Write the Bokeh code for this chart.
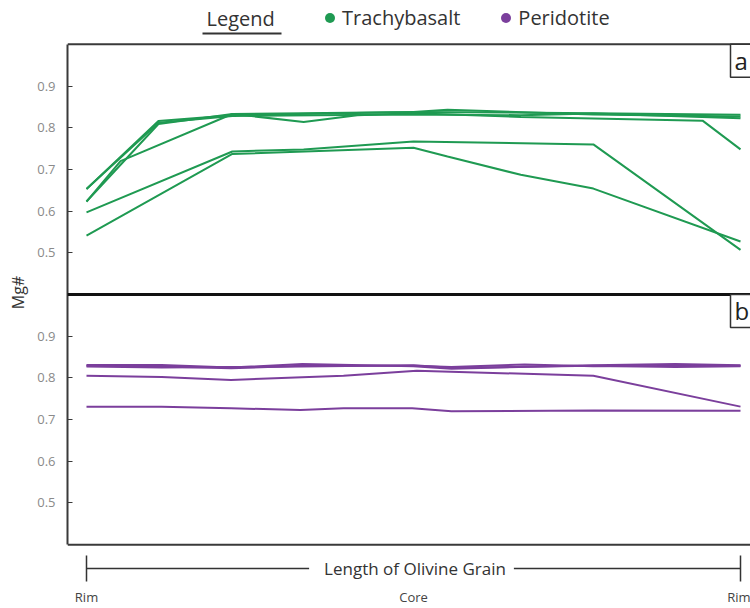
from bokeh.plotting import figure
from bokeh.models import (Range1d, FixedTicker, CustomJSTickFormatter, Span, Label,
                          Legend, LegendItem, Arrow, TeeHead)
from bokeh.embed import file_html
from bokeh.resources import INLINE

# ---------------- data (t = position along grain, rim=0, core=0.5, rim=1) -------------
tb1_t = [0, 0.110, 0.223, 0.5, 0.775, 1.0]
tb1_mg = [0.653, 0.816, 0.830, 0.838, 0.835, 0.831]
tb2_t = [0, 0.110, 0.223, 0.332, 0.5, 0.552, 0.775, 1.0]
tb2_mg = [0.623, 0.809, 0.833, 0.835, 0.838, 0.843, 0.832, 0.827]
tb3_t = [0, 0.052, 0.223, 0.332, 0.414, 0.5, 0.664, 0.942, 1.0]
tb3_mg = [0.623, 0.720, 0.833, 0.814, 0.830, 0.835, 0.826, 0.817, 0.748]
tb4_t = [0, 0.110, 0.223, 0.5, 0.664, 0.775, 1.0]
tb4_mg = [0.653, 0.812, 0.828, 0.832, 0.830, 0.834, 0.823]
tb5_t = [0, 0.223, 0.332, 0.5, 0.775, 1.0]
tb5_mg = [0.597, 0.743, 0.748, 0.767, 0.760, 0.507]
tb6_t = [0, 0.223, 0.5, 0.552, 0.664, 0.775, 1.0]
tb6_mg = [0.541, 0.737, 0.752, 0.731, 0.687, 0.654, 0.527]

pd1_t = [0, 0.115, 0.221, 0.33, 0.5, 0.558, 0.775, 0.9, 1.0]
pd1_mg = [0.831, 0.831, 0.825, 0.833, 0.828, 0.822, 0.830, 0.833, 0.830]
pd2_t = [0, 0.115, 0.221, 0.33, 0.5, 0.558, 0.67, 0.775, 1.0]
pd2_mg = [0.829, 0.827, 0.823, 0.829, 0.829, 0.826, 0.832, 0.828, 0.829]
pd3_t = [0, 0.115, 0.221, 0.33, 0.5, 0.558, 0.775, 0.9, 1.0]
pd3_mg = [0.827, 0.825, 0.826, 0.827, 0.830, 0.824, 0.829, 0.826, 0.828]
pd4_t = [0, 0.115, 0.221, 0.393, 0.505, 0.775, 1.0]
pd4_mg = [0.805, 0.802, 0.795, 0.805, 0.817, 0.805, 0.731]
pd5_t = [0, 0.115, 0.221, 0.327, 0.393, 0.498, 0.558, 0.775, 1.0]
pd5_mg = [0.731, 0.731, 0.727, 0.723, 0.727, 0.727, 0.720, 0.722, 0.721]

y_ticks = [0.5, 0.6, 0.7, 0.8, 0.9]
x_tick_pos = [0, 0.5, 1]
x_tick_labels = ["Rim", "Core", "Rim"]
series_names = ["Trachybasalt", "Peridotite"]
panel_labels = ["a", "b"]

GREEN = "#1f9a52"
PURPLE = "#7b3f9c"
FONT = "Open Sans"

# ---------------- geometry (window px; canvas sits at 0,0) ----------------
W, H = 750, 608
X0, X1 = 86.0, 740.0            # t = 0 and t = 1
FL = 67                         # frame left
FB = 586                        # frame bottom (x tick labels below)
PT, PB = 44.0, 546.0            # panel a top, panel b bottom
Y_LO, Y_HI = 0.4, 1.0           # each panel shows Mg# 0.4 .. 1.0
OFF = Y_HI - Y_LO               # offset of the lower panel
ppu = (PB - PT) / (2 * OFF)     # px per Mg# unit

xs = X1 - X0
x_start = (FL - X0) / xs
x_end = (W - X0) / xs
y_lo_panel = Y_LO - OFF
y_top = Y_HI + PT / ppu
y_bot = Y_HI - (FB - PT) / ppu


def x_at(px):
    return (px - X0) / xs


def y_at(py):
    return Y_HI - (py - PT) / ppu


p = figure(width=W, height=H, output_backend="svg", toolbar_location=None,
           x_range=Range1d(x_start, x_end), y_range=Range1d(y_bot, y_top),
           min_border_left=FL, min_border_right=0,
           min_border_top=0, min_border_bottom=H - FB)
p.extra_y_ranges = {"b": Range1d(y_bot + OFF, y_top + OFF)}
p.outline_line_color = None
p.xgrid.visible = False
p.ygrid.visible = False
p.background_fill_color = "white"
p.border_fill_color = "white"

# lines
tb_series = [(tb1_t, tb1_mg), (tb2_t, tb2_mg), (tb3_t, tb3_mg),
             (tb4_t, tb4_mg), (tb5_t, tb5_mg), (tb6_t, tb6_mg)]
pd_series = [(pd1_t, pd1_mg), (pd2_t, pd2_mg), (pd3_t, pd3_mg),
             (pd4_t, pd4_mg), (pd5_t, pd5_mg)]
for t, mg in tb_series:
    p.line(t, mg, line_color=GREEN, line_width=2)
for t, mg in pd_series:
    p.line(t, mg, line_color=PURPLE, line_width=2, y_range_name="b")

# y axis: ticks for both panels
ya = p.yaxis[0]
ya.bounds = (y_lo_panel, Y_HI)
ya.ticker = FixedTicker(ticks=y_ticks + [v - OFF for v in y_ticks])
ya.formatter = CustomJSTickFormatter(
    args=dict(split=Y_LO, off=OFF),
    code="return (tick < split ? tick + off : tick).toFixed(1);")
ya.axis_line_color = "#3a3a3a"
ya.axis_line_width = 2
ya.major_tick_in = 5
ya.major_tick_out = 0
ya.minor_tick_in = 0
ya.minor_tick_out = 0
ya.major_tick_line_color = "#3a3a3a"
ya.minor_tick_line_color = None
ya.major_label_text_color = "#8a8a8a"
ya.major_label_text_font = FONT
ya.major_label_text_font_size = "13px"
ya.major_label_standoff = 12
ya.axis_label = "Mg#"
ya.axis_label_text_font = FONT
ya.axis_label_text_font_size = "16px"
ya.axis_label_text_font_style = "normal"
ya.axis_label_text_color = "#333333"
ya.axis_label_standoff = 5

# x axis: Rim / Core / Rim
xa = p.xaxis[0]
xa.ticker = FixedTicker(ticks=x_tick_pos)
xa.major_label_overrides = {float(k): v for k, v in zip(x_tick_pos, x_tick_labels)}
xa.axis_line_color = None
xa.major_tick_line_color = None
xa.minor_tick_line_color = None
xa.major_tick_in = 0
xa.major_tick_out = 0
xa.minor_tick_in = 0
xa.minor_tick_out = 0
xa.major_label_standoff = 3
xa.major_label_text_font = FONT
xa.major_label_text_font_size = "13px"
xa.major_label_text_color = "#444444"

# frame borders and divider
p.add_layout(Span(location=Y_HI, dimension="width", line_color="#3a3a3a", line_width=2))
p.add_layout(Span(location=y_lo_panel, dimension="width", line_color="#3a3a3a", line_width=2))
p.add_layout(Span(location=Y_LO, dimension="width", line_color="#111111", line_width=3))

# panel labels
for name, rng in zip(panel_labels, ["default", "b"]):
    p.add_layout(Label(x=x_at(730), y=Y_HI, y_range_name=rng, text=name,
                       text_font=FONT, text_font_size="24px", text_color="#222222",
                       text_align="left", text_baseline="top",
                       border_line_color="#333333", border_line_width=1.5,
                       background_fill_color="white",
                       padding=dict(left=4, right=6, top=0, bottom=0)))

# bracket "Length of Olivine Grain"
yb = y_at(570)
p.add_layout(Arrow(x_start=0, y_start=yb, x_end=1, y_end=yb, line_color="#333333",
                   line_width=1.5,
                   start=TeeHead(size=26, line_color="#333333", line_width=1.5),
                   end=TeeHead(size=26, line_color="#333333", line_width=1.5)))
p.add_layout(Label(x=x_at(411), y=yb, text="Length of Olivine Grain", text_align="center",
                   text_baseline="middle", text_font=FONT, text_font_size="17px",
                   text_color="#333333", background_fill_color="white",
                   padding=dict(left=15, right=8, top=0, bottom=0)))

# legend: zero-size markers on the measured points, so only the legend shows a dot
r_tb = p.scatter(tb1_t, tb1_mg, marker="circle", size=0, fill_color=GREEN,
                 line_color=None)
r_pd = p.scatter(pd1_t, pd1_mg, marker="circle", size=0, fill_color=PURPLE,
                 line_color=None, y_range_name="b")
legend = Legend(items=[LegendItem(label=series_names[0], renderers=[r_tb]),
                       LegendItem(label=series_names[1], renderers=[r_pd])],
                orientation="horizontal", location=(317 - FL, FB - 33),
                padding=0, margin=0, spacing=33, glyph_width=25, glyph_height=25,
                label_standoff=0, label_text_font=FONT, label_text_font_size="20px",
                label_text_color="#333333", label_text_baseline="middle",
                border_line_color=None, background_fill_alpha=0)
p.add_layout(legend, "center")

p.add_layout(Label(x=x_at(206), y=y_at(18), text="Legend", text_align="left",
                   text_baseline="middle", text_font=FONT, text_font_size="20px",
                   text_color="#333333"))
p.add_layout(Arrow(x_start=x_at(202), y_start=y_at(33), x_end=x_at(281), y_end=y_at(33),
                   end=None, line_color="#333333", line_width=2))

open("out.html", "w").write(file_html(p, INLINE))
